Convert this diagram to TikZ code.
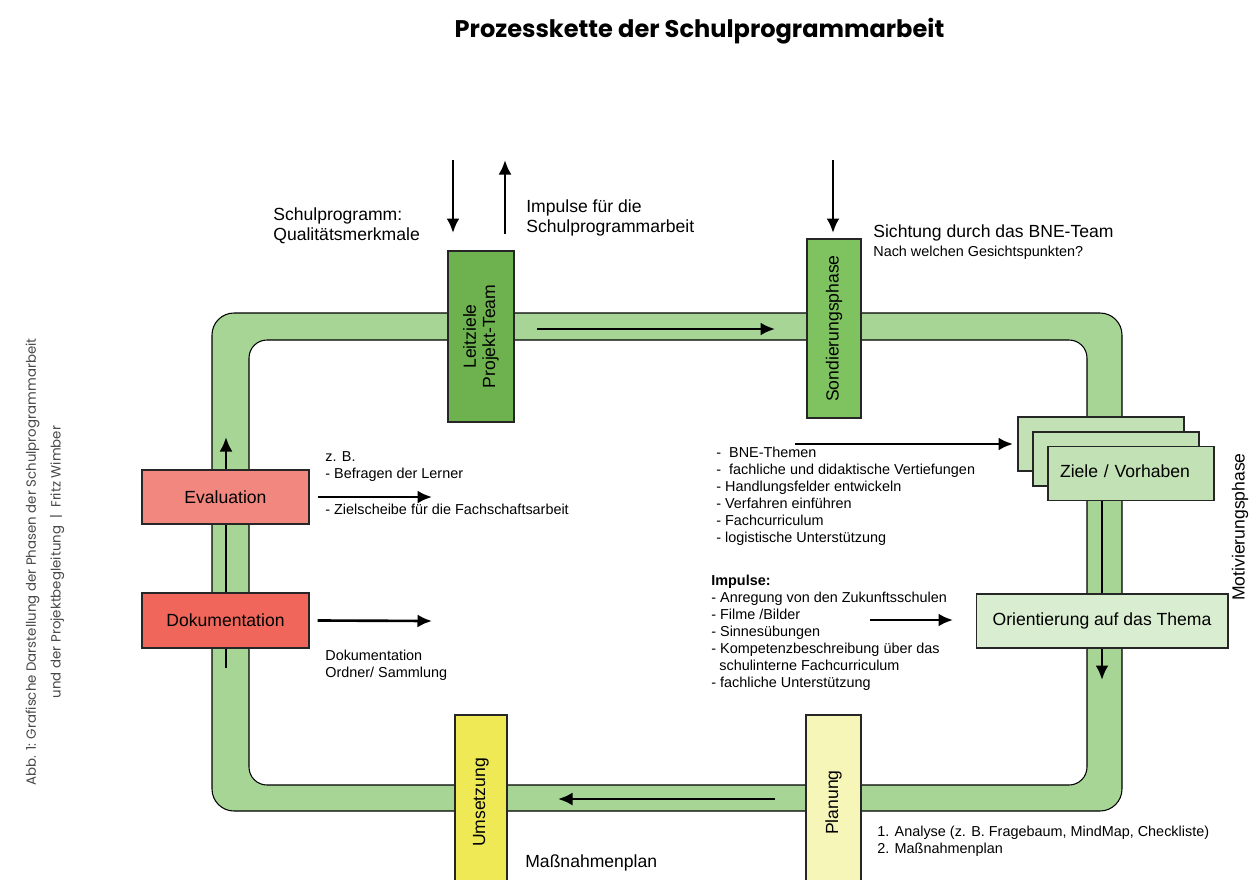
\documentclass[tikz,border=0pt]{standalone}
\usepackage{fontspec}
\setmainfont{Liberation Sans}
\newfontfamily\titlefont{Poppins}
\usetikzlibrary{arrows.meta}

\definecolor{bandgreen}{HTML}{A6D596}
\definecolor{leitgreen}{HTML}{6DB24E}
\definecolor{sondgreen}{HTML}{7EC35F}
\definecolor{zielgreen}{HTML}{C2E1B4}
\definecolor{orientgreen}{HTML}{D9EDD1}
\definecolor{evalred}{HTML}{F2877F}
\definecolor{dokured}{HTML}{F0665A}
\definecolor{umsyellow}{HTML}{EEE955}
\definecolor{planyellow}{HTML}{F7F6B9}

\begin{document}
\begin{tikzpicture}[x=0.02cm,y=-0.02cm,
  box/.style={draw=black!85,line width=0.6pt,inner sep=0pt,align=center,
    font=\fontsize{10}{11}\selectfont},
  vbox/.style={box,rotate=90},
  note/.style={anchor=north west,inner sep=0pt,align=left,
    font=\fontsize{10}{11.5}\selectfont},
  small/.style={anchor=north west,inner sep=0pt,align=left,
    font=\fontsize{8.2}{9.7}\selectfont},
  arr/.style={->,>={Latex[length=2.9mm,width=2.6mm]},line width=1.5pt}]

\useasboundingbox (0,0) rectangle (1249,880);

% Title
\node[anchor=base,inner sep=0pt,font=\titlefont\bfseries\fontsize{13.7}{16}\selectfont] (title) at (699.5,37) {Prozesskette der Schulprogrammarbeit};

% Ring
\filldraw[fill=bandgreen,draw=black,line width=0.6pt,even odd rule]
  [rounded corners=0.44cm] (212,313) rectangle (1122,811)
  [rounded corners=0.36cm] (249,340) rectangle (1087,785);

% arrows in the ring, behind the boxes
\coordinate (lstart) at (226,668);
\coordinate (lend) at (226,437);
\coordinate (rstart) at (1102,500);
\coordinate (rend) at (1102,680);
\draw[arr] (lstart) -- (lend);
\draw[arr] (rstart) -- (rend);

% Boxes
\node[vbox,fill=leitgreen,minimum width=3.42cm,minimum height=1.32cm] (leit) at (481,336.5) {Leitziele\\Projekt-Team};
\node[vbox,fill=sondgreen,minimum width=3.58cm,minimum height=1.08cm] (sond) at (834,328.5) {Sondierungsphase};
\node[box,fill=zielgreen,minimum width=3.32cm,minimum height=1.08cm] (ziel1) at (1101,444) {};
\node[box,fill=zielgreen,minimum width=3.32cm,minimum height=1.08cm] (ziel2) at (1116,459) {};
\node[box,fill=zielgreen,minimum height=1.08cm,inner xsep=0.24cm,text width=2.84cm,align=left] (ziel3) at (1131,473.5) {\raisebox{0.08cm}{Ziele / Vorhaben}};
\node[box,fill=orientgreen,minimum width=5.04cm,minimum height=1.08cm] (orient) at (1102,621) {Orientierung auf das Thema};
\node[box,fill=evalred,minimum width=3.34cm,minimum height=1.08cm] (eval) at (225.5,497) {Evaluation};
\node[box,fill=dokured,minimum width=3.34cm,minimum height=1.1cm] (doku) at (225.5,620.5) {Dokumentation};
\node[vbox,fill=umsyellow,minimum width=3.5cm,minimum height=1.04cm] (umset) at (481,802.5) {Umsetzung};
\node[vbox,fill=planyellow,minimum width=3.5cm,minimum height=1.1cm] (plan) at (833.5,802.5) {Planung};

% Arrows
\coordinate (qin) at (453,160);
\coordinate (qinend) at (453,233);
\coordinate (impstart) at (505,234);
\coordinate (impend) at (505,160);
\coordinate (sin) at (833,160);
\coordinate (sinend) at (833,233);
\coordinate (tstart) at (537,329);
\coordinate (tend) at (775,329);
\coordinate (bstart) at (775,799);
\coordinate (bend) at (558,799);
\coordinate (bnestart) at (795,444);
\coordinate (bneend) at (1013,444);
\coordinate (impulsstart) at (870,620);
\coordinate (impulsend) at (953,620);
\coordinate (evalend) at (432,497);
\coordinate (dokuend) at (432,621);
\draw[arr] (qin) -- (qinend);
\draw[arr] (impstart) -- (impend);
\draw[arr] (sin) -- (sinend);
\draw[arr] (tstart) -- (tend);
\draw[arr] (bstart) -- (bend);
\draw[arr] (bnestart) -- (bneend);
\draw[arr] (impulsstart) -- (impulsend);
\draw[arr] ([xshift=0.16cm]eval.east) -- (evalend);
\draw[arr] ([xshift=0.16cm]doku.east) -- (dokuend);

% Texts
\node[note] (quali) at (273,207) {Schulprogramm:\\Qualitätsmerkmale};
\node[note] (impulse) at (526,199) {Impulse für die\\Schulprogrammarbeit};
\node[note] (sichtung) at (873,224) {Sichtung durch das BNE-Team};
\node[small] (gesicht) at (873,245.5) {Nach welchen Gesichtspunkten?};
\node[small] (zb) at (325,451.5) {z. B.\\- Befragen der Lerner};
\node[small] (ziel) at (325,503.5) {- Zielscheibe für die Fachschaftsarbeit};
\node[small] (ordner) at (325,649.5) {Dokumentation\\Ordner/ Sammlung};
\node[small] (bne) at (716,446.5) {-\ \ BNE-Themen\\-\ \ fachliche und didaktische Vertiefungen\\- Handlungsfelder entwickeln\\- Verfahren einführen\\- Fachcurriculum\\- logistische Unterstützung};
\node[small] (impulsliste) at (711,574.5) {\textbf{Impulse:}\\- Anregung von den Zukunftsschulen\\- Filme /Bilder\\- Sinnesübungen\\- Kompetenzbeschreibung über das\\\ \ schulinterne Fachcurriculum\\- fachliche Unterstützung};
\node[small] (analyse) at (877,825.5) {1. Analyse (z. B. Fragebaum, MindMap, Checkliste)\\2. Maßnahmenplan};
\node[note] (massnahmen) at (525,854) {Maßnahmenplan};
\node[rotate=90,inner sep=0pt,font=\fontsize{10}{12}\selectfont] (motiv) at (1240,527) {Motivierungsphase};

% Caption
\node[rotate=90,inner sep=0pt,align=center,text=black!72,font=\titlefont\fontsize{7.6}{14}\selectfont] (caption) at (45,562) {Abb. 1: Grafische Darstellung der Phasen der Schulprogrammarbeit\\und der Projektbegleitung \ | \ Fritz Wimber};

\end{tikzpicture}
\end{document}
